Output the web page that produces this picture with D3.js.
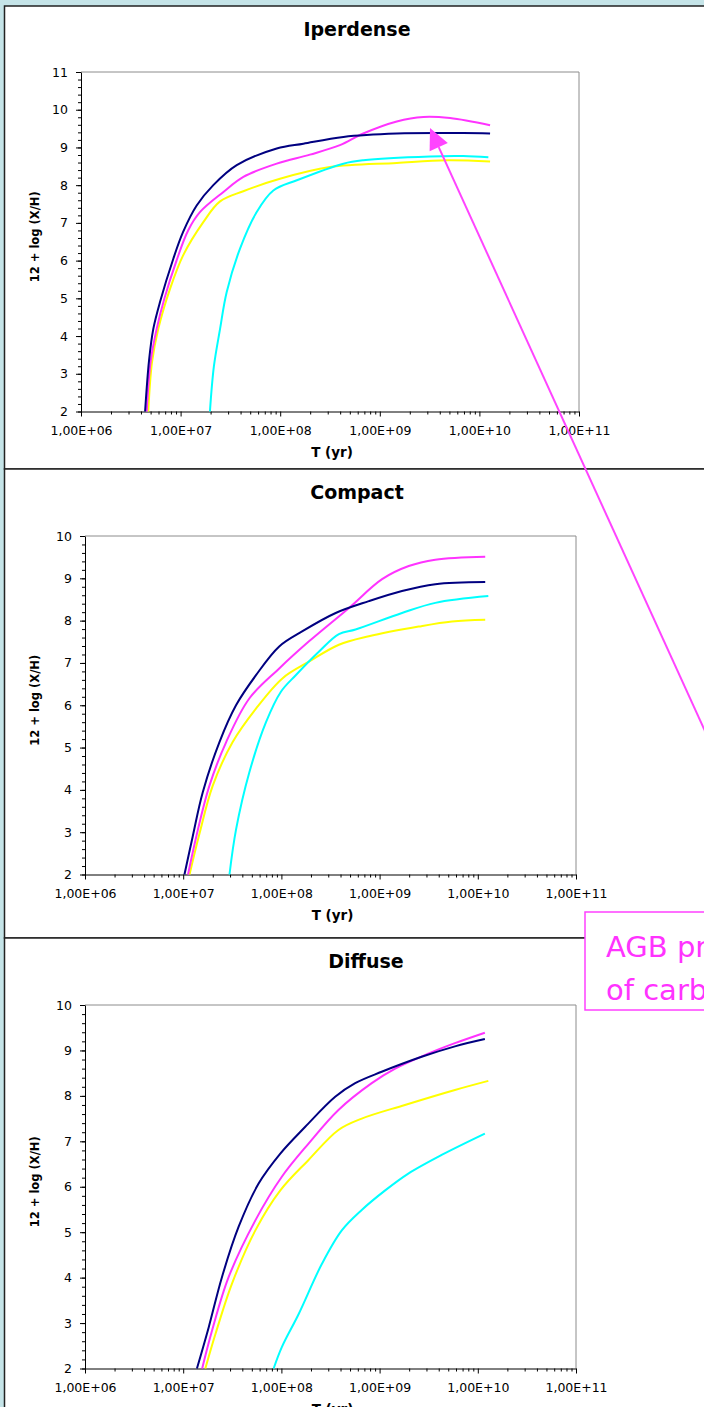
<!DOCTYPE html>
<html>
<head>
<meta charset="utf-8">
<script src="https://cdn.jsdelivr.net/npm/d3@7"></script>
<style>
  body { margin: 0; background: #c5e4e8; }
  svg { display: block; }
  text { font-family: "DejaVu Sans", Verdana, sans-serif; fill: #000; }
</style>
</head>
<body>
<div id="chart"></div>
<script>
// values: [T (yr), 12 + log(X/H)]
const panelTitles = ["Iperdense", "Compact", "Diffuse"];
const xTickValues = [1e6, 1e7, 1e8, 1e9, 1e10, 1e11];
const xTickLabels = ["1,00E+06", "1,00E+07", "1,00E+08", "1,00E+09", "1,00E+10", "1,00E+11"];
const yTicksIperdense = [2, 3, 4, 5, 6, 7, 8, 9, 10, 11];
const yTicksCompact = [2, 3, 4, 5, 6, 7, 8, 9, 10];
const yTicksDiffuse = [2, 3, 4, 5, 6, 7, 8, 9, 10];
const seriesColors = ["#ffff00", "#00ffff", "#ff33ff", "#000080"];

const iperdenseYellow = [[4.74e6, 2.0], [5.16e6, 3.3], [5.97e6, 4.19], [7.83e6, 5.25], [1.06e7, 6.14], [1.69e7, 7.02], [2.49e7, 7.57], [4.26e7, 7.84], [9.95e7, 8.17], [3.16e8, 8.48], [1.48e9, 8.59], [4.7e9, 8.66], [1.28e10, 8.63]];
const iperdenseCyan = [[1.97e7, 2.0], [2.16e7, 3.2], [2.49e7, 4.19], [2.9e7, 5.16], [3.95e7, 6.32], [5.81e7, 7.29], [8.53e7, 7.86], [1.47e8, 8.13], [4.31e8, 8.57], [6.82e8, 8.66], [3.19e9, 8.76], [6.89e9, 8.77], [1.23e10, 8.74]];
const iperdenseMagenta = [[4.57e6, 2.0], [4.99e6, 3.3], [5.75e6, 4.19], [6.89e6, 5.0], [9.1e6, 6.0], [1.19e7, 6.8], [1.57e7, 7.29], [2.69e7, 7.82], [4.27e7, 8.22], [9.23e7, 8.57], [1.99e8, 8.81], [3.98e8, 9.06], [6.82e8, 9.37], [1.48e9, 9.69], [2.74e9, 9.81], [5.07e9, 9.78], [1.28e10, 9.59]];
const iperdenseNavy = [[4.4e6, 2.0], [4.82e6, 3.35], [5.32e6, 4.19], [6.21e6, 4.9], [8.45e6, 6.05], [1.06e7, 6.76], [1.45e7, 7.46], [2.13e7, 8.0], [3.66e7, 8.53], [9.23e7, 8.97], [1.71e8, 9.1], [4.31e8, 9.28], [1.48e9, 9.37], [6.89e9, 9.38], [1.28e10, 9.37]];

const compactYellow = [[1.16e7, 2.0], [1.47e7, 2.98], [2.0e7, 4.1], [3.19e7, 5.13], [5.51e7, 5.92], [1.03e8, 6.64], [1.91e8, 7.03], [3.85e8, 7.43], [7.76e8, 7.63], [2.5e9, 7.86], [5.45e9, 7.98], [1.19e10, 8.02]];
const compactCyan = [[2.96e7, 2.0], [3.45e7, 3.06], [4.71e7, 4.41], [6.97e7, 5.6], [9.89e7, 6.32], [1.4e8, 6.71], [2.42e8, 7.27], [3.85e8, 7.68], [5.69e8, 7.79], [1.69e9, 8.18], [3.69e9, 8.42], [1.28e10, 8.58]];
const compactMagenta = [[1.12e7, 2.0], [1.36e7, 2.9], [1.85e7, 4.1], [2.74e7, 5.13], [4.71e7, 6.16], [9.5e7, 6.87], [1.91e8, 7.51], [4.88e8, 8.3], [1.06e9, 8.98], [1.98e9, 9.29], [3.69e9, 9.44], [1.19e10, 9.51]];
const compactNavy = [[1.03e7, 2.0], [1.25e7, 2.9], [1.58e7, 3.94], [2.34e7, 5.13], [3.45e7, 6.0], [5.51e7, 6.71], [9.5e7, 7.39], [1.64e8, 7.75], [3.57e8, 8.18], [7.76e8, 8.46], [1.69e9, 8.7], [3.69e9, 8.86], [1.19e10, 8.91]];

const diffuseYellow = [[1.68e7, 2.0], [2.13e7, 2.76], [3.14e7, 3.87], [5.43e7, 5.04], [9.75e7, 5.92], [1.89e8, 6.59], [3.81e8, 7.25], [6.58e8, 7.5], [1.81e9, 7.8], [5.85e9, 8.13], [1.28e10, 8.33]];
const diffuseCyan = [[8.34e7, 2.0], [1.01e8, 2.47], [1.5e8, 3.2], [2.58e8, 4.3], [4.12e8, 5.04], [6.58e8, 5.49], [1.14e9, 5.92], [1.96e9, 6.29], [4.28e9, 6.7], [1.18e10, 7.17]];
const diffuseMagenta = [[1.56e7, 2.0], [1.97e7, 2.84], [2.9e7, 4.01], [5.43e7, 5.26], [1.01e8, 6.22], [1.89e8, 6.95], [3.81e8, 7.69], [8.32e8, 8.28], [1.44e9, 8.6], [3.13e9, 8.93], [5.85e9, 9.16], [1.18e10, 9.39]];
const diffuseNavy = [[1.38e7, 2.0], [1.82e7, 2.91], [2.48e7, 4.01], [3.67e7, 5.12], [5.86e7, 6.07], [9.75e7, 6.73], [1.75e8, 7.32], [3.53e8, 7.98], [5.64e8, 8.28], [1.05e9, 8.53], [2.68e9, 8.86], [5.85e9, 9.09], [1.18e10, 9.25]];

const annotationLines = ["AGB production", "of carbon"];

const width = 704, height = 1407;

const panels = [
  { title: panelTitles[0], titleX: 357, top: 6, bottom: 469, x0: 81, x1: 579, y0: 72, y1: 411.5,
    yTicks: yTicksIperdense, series: [iperdenseYellow, iperdenseCyan, iperdenseMagenta, iperdenseNavy] },
  { title: panelTitles[1], titleX: 357, top: 469, bottom: 938, x0: 85, x1: 576, y0: 536, y1: 874.5,
    yTicks: yTicksCompact, series: [compactYellow, compactCyan, compactMagenta, compactNavy] },
  { title: panelTitles[2], titleX: 366, top: 938, bottom: 1440, x0: 85, x1: 576, y0: 1005, y1: 1368.5,
    yTicks: yTicksDiffuse, series: [diffuseYellow, diffuseCyan, diffuseMagenta, diffuseNavy] }
];

const svg = d3.select("#chart")
  .append("svg")
  .attr("width", width)
  .attr("height", height);

panels.forEach(p => {
  const g = svg.append("g");

  // panel frame
  g.append("rect")
    .attr("x", 4.5).attr("y", p.top)
    .attr("width", width + 20).attr("height", p.bottom - p.top)
    .attr("fill", "#fff")
    .attr("stroke", "#222")
    .attr("stroke-width", 1.5);

  const yMin = d3.min(p.yTicks), yMax = d3.max(p.yTicks);
  const x = d3.scaleLog().domain([1e6, 1e11]).range([p.x0, p.x1]);
  const y = d3.scaleLinear().domain([yMin, yMax]).range([p.y1, p.y0]);

  // plot area border (grey top/right)
  g.append("path")
    .attr("d", `M${p.x0},${p.y0}H${p.x1}V${p.y1}`)
    .attr("fill", "none")
    .attr("stroke", "#8c8c8c")
    .attr("stroke-width", 1);

  // title
  g.append("text")
    .attr("x", p.titleX).attr("y", p.top + 29.5)
    .attr("text-anchor", "middle")
    .style("font-size", "19px")
    .style("font-weight", "bold")
    .text(p.title);

  // minor ticks
  const minorX = x.ticks().filter(t => xTickValues.indexOf(t) < 0);
  g.append("g")
    .attr("transform", `translate(0,${p.y1})`)
    .call(d3.axisBottom(x).tickValues(minorX).tickSize(3).tickFormat(""))
    .call(a => a.select(".domain").remove());

  const minorY = d3.range(yMin, yMax + 0.001, 0.2);
  g.append("g")
    .attr("transform", `translate(${p.x0},0)`)
    .call(d3.axisLeft(y).tickValues(minorY).tickSize(3).tickFormat(""))
    .call(a => a.select(".domain").remove());

  // major axes
  g.append("g")
    .attr("transform", `translate(0,${p.y1})`)
    .call(d3.axisBottom(x)
      .tickValues(xTickValues)
      .tickFormat((d, i) => xTickLabels[i])
      .tickSize(5)
      .tickSizeOuter(0)
      .tickPadding(10))
    .call(a => a.selectAll("text").style("font-size", "12.5px").style("font-family", "DejaVu Sans, sans-serif"));

  g.append("g")
    .attr("transform", `translate(${p.x0},0)`)
    .call(d3.axisLeft(y)
      .tickValues(p.yTicks)
      .tickSize(5)
      .tickSizeOuter(0)
      .tickPadding(8))
    .call(a => a.selectAll("text").style("font-size", "12.5px").style("font-family", "DejaVu Sans, sans-serif"));

  // axis titles
  g.append("text")
    .attr("x", (p.x0 + p.x1) / 2 + 2).attr("y", p.y1 + 45)
    .attr("text-anchor", "middle")
    .style("font-size", "13.5px")
    .style("font-weight", "bold")
    .text("T (yr)");

  g.append("text")
    .attr("transform", `translate(39,${(p.y0 + p.y1) / 2 - 5}) rotate(-90)`)
    .attr("text-anchor", "middle")
    .style("font-size", "11.5px")
    .style("font-weight", "bold")
    .text("12 + log (X/H)");

  // curves
  const line = d3.line()
    .x(d => x(d[0]))
    .y(d => y(d[1]))
    .curve(d3.curveCatmullRom.alpha(0.5));

  g.selectAll(".series")
    .data(p.series)
    .enter()
    .append("path")
    .attr("class", "series")
    .attr("d", line)
    .attr("fill", "none")
    .attr("stroke", (d, i) => seriesColors[i])
    .attr("stroke-width", 2)
    .attr("stroke-linejoin", "round");
});

// annotation box
const note = svg.append("g");
note.append("rect")
  .attr("x", 585).attr("y", 912)
  .attr("width", 200).attr("height", 98)
  .attr("fill", "#fff")
  .attr("stroke", "#ff40ff")
  .attr("stroke-width", 1.5);

note.selectAll("text")
  .data(annotationLines)
  .enter()
  .append("text")
  .attr("x", 606)
  .attr("y", (d, i) => 957 + i * 43)
  .style("font-family", "'Comic Sans MS', 'DejaVu Sans', sans-serif")
  .style("font-size", "29px")
  .style("fill", "#ff33ff")
  .text(d => d);

// arrow pointing at the Iperdense magenta peak
const tip = [430, 128], dir = [0.415, 0.91];
const tail = [tip[0] + dir[0] * 680, tip[1] + dir[1] * 680];
const headLen = 21, headHalf = 10;
const base = [tip[0] + dir[0] * headLen, tip[1] + dir[1] * headLen];
const perp = [dir[1], -dir[0]];

svg.append("line")
  .attr("x1", tail[0]).attr("y1", tail[1])
  .attr("x2", base[0]).attr("y2", base[1])
  .attr("stroke", "#ff44ff")
  .attr("stroke-width", 2);

svg.append("path")
  .attr("d", d3.line()([
    tip,
    [base[0] + perp[0] * headHalf, base[1] + perp[1] * headHalf],
    [base[0] - perp[0] * headHalf, base[1] - perp[1] * headHalf]
  ]) + "Z")
  .attr("fill", "#ff44ff");
</script>
</body>
</html>
